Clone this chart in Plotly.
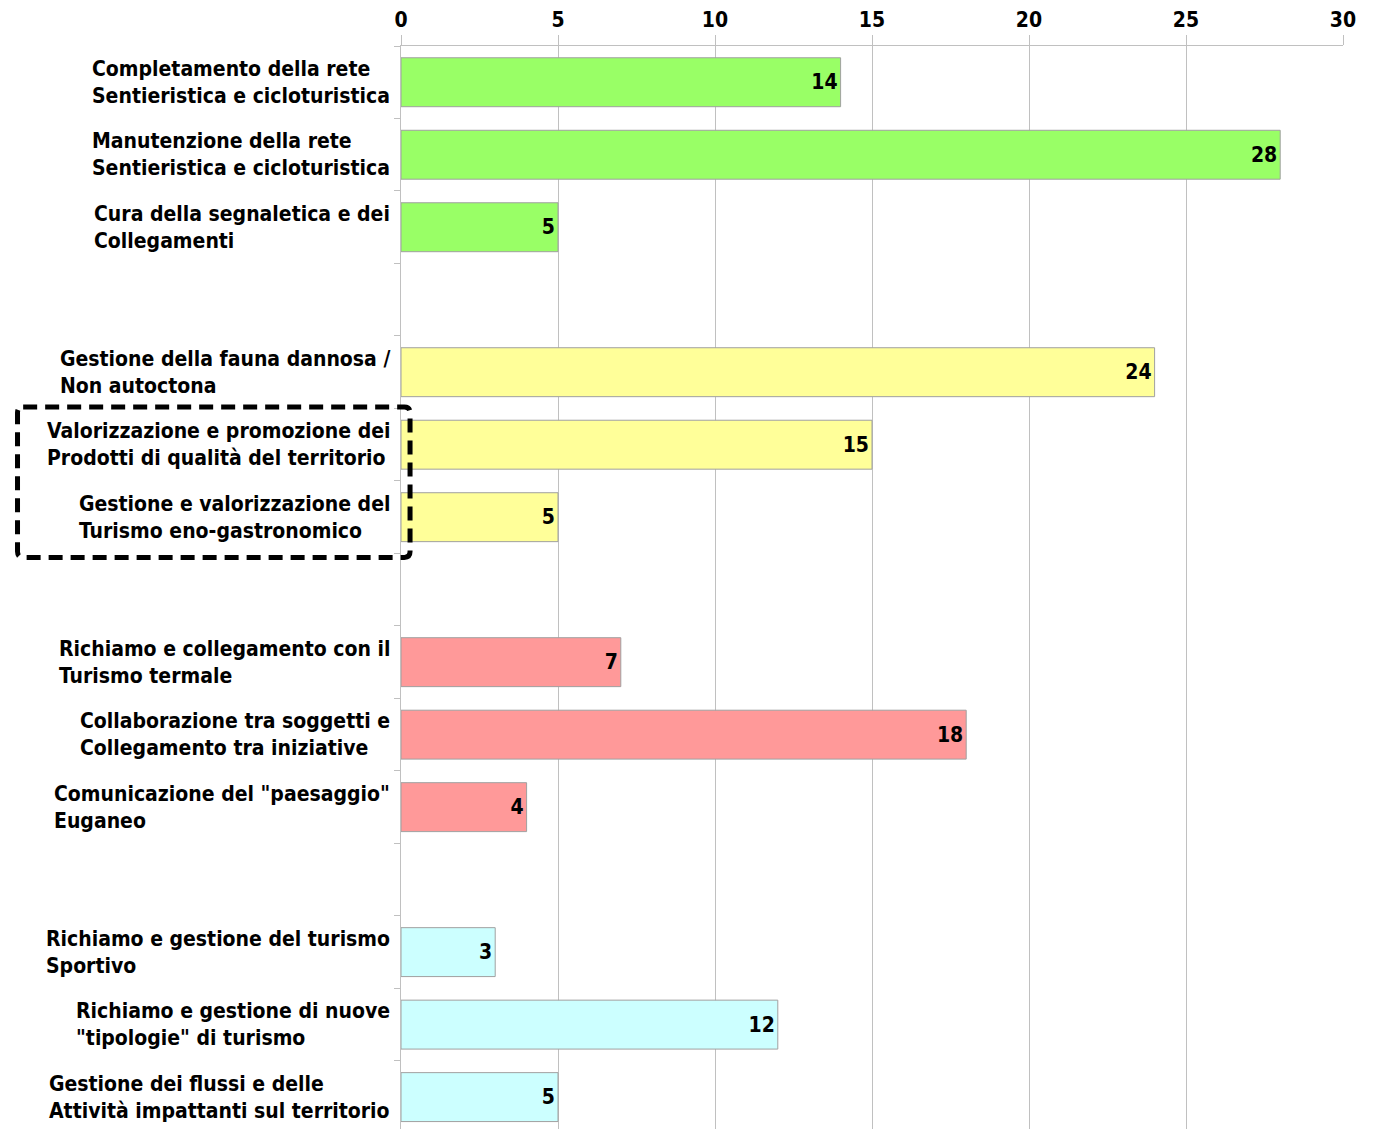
import plotly.graph_objects as go

# slot index (top to bottom); empty slots separate the four groups
slots = [0, 1, 2, 4, 5, 6, 8, 9, 10, 12, 13, 14]
labels = [
    "Completamento della rete<br>Sentieristica e cicloturistica",
    "Manutenzione della rete<br>Sentieristica e cicloturistica",
    "Cura della segnaletica e dei<br>Collegamenti",
    "Gestione della fauna dannosa /<br>Non autoctona",
    "Valorizzazione e promozione dei<br>Prodotti di qualità del territorio",
    "Gestione e valorizzazione del<br>Turismo eno-gastronomico",
    "Richiamo e collegamento con il<br>Turismo termale",
    "Collaborazione tra soggetti e<br>Collegamento tra iniziative",
    "Comunicazione del \"paesaggio\"<br>Euganeo",
    "Richiamo e gestione del turismo<br>Sportivo",
    "Richiamo e gestione di nuove<br>\"tipologie\" di turismo",
    "Gestione dei flussi e delle<br>Attività impattanti sul territorio",
]
values = [14, 28, 5, 24, 15, 5, 7, 18, 4, 3, 12, 5]
group_colors = ["#99FF66", "#FFFF99", "#FF9999", "#CCFFFF"]
colors = [group_colors[i // 3] for i in range(len(values))]

FONT = "DejaVu Sans Condensed"

fig = go.Figure()
fig.add_trace(go.Bar(
    x=values,
    y=slots,
    orientation="h",
    width=0.675,
    marker=dict(color=colors, line=dict(color="#A0A0A0", width=1)),
    text=[str(v) for v in values],
    textposition="inside",
    insidetextanchor="end",
    textfont=dict(family=FONT, size=21, color="black", weight="bold"),
    constraintext="none",
    hoverinfo="skip",
))

# category labels, left-aligned block ending just left of the axis
for s, lab in zip(slots, labels):
    fig.add_annotation(
        x=0, xref="paper", y=s, yref="y",
        text=lab, showarrow=False,
        xanchor="right", yanchor="middle", align="left",
        xshift=-9,
        font=dict(family=FONT, size=21, color="black", weight="bold"),
    )

# dashed highlight box (rounded corners) around the two items
bx0, bx1, by0, by1 = -0.4071, 0.0096, 4.479, 6.555
rx, ry = 0.006, 0.08
box = (f"M {bx0+rx},{by0} L {bx1-rx},{by0} Q {bx1},{by0} {bx1},{by0+ry} "
       f"L {bx1},{by1-ry} Q {bx1},{by1} {bx1-rx},{by1} "
       f"L {bx0+rx},{by1} Q {bx0},{by1} {bx0},{by1-ry} "
       f"L {bx0},{by0+ry} Q {bx0},{by0} {bx0+rx},{by0} Z")
fig.add_shape(
    type="path", xref="paper", yref="y", path=box,
    line=dict(color="black", width=5, dash="14px,8px"),
    layer="above",
)

fig.update_xaxes(
    side="top", range=[0, 30], tickvals=[0, 5, 10, 15, 20, 25, 30],
    showgrid=True, gridcolor="#C0C0C0", gridwidth=1,
    ticks="outside", ticklen=10, tickcolor="#C0C0C0",
    showline=True, linecolor="#C0C0C0",
    tickfont=dict(family=FONT, size=21, color="black", weight="bold"),
    zeroline=False,
)
fig.update_yaxes(
    range=[14.44, -0.5],
    tickvals=[i + 0.5 for i in range(-1, 15)],
    ticktext=["" for _ in range(-1, 15)],
    ticks="outside", ticklen=6, tickcolor="#C0C0C0",
    showgrid=False, zeroline=False,
    showline=True, linecolor="#C0C0C0",
)
fig.update_layout(
    width=1368, height=1121,
    margin=dict(l=393, r=33, t=38, b=0),
    plot_bgcolor="white", paper_bgcolor="white",
    showlegend=False,
)

fig.write_html("out.html")
